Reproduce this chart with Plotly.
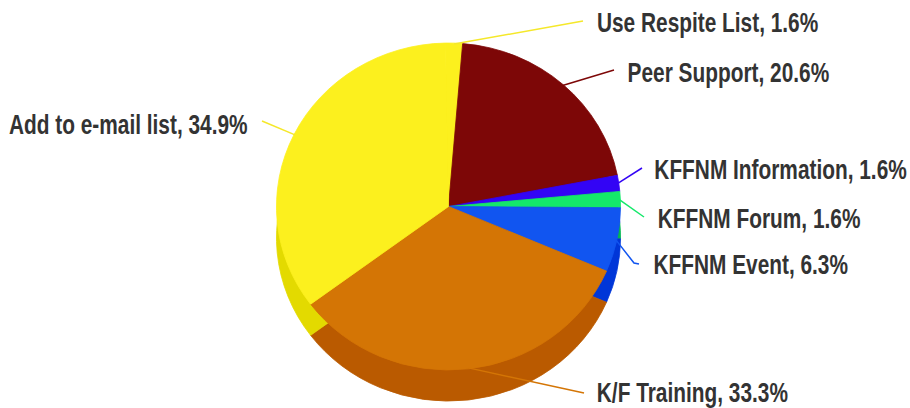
import math
import plotly.graph_objects as go

# ---- data ----
labels = ["Use Respite List", "Peer Support", "KFFNM Information", "KFFNM Forum",
          "KFFNM Event", "K/F Training", "Add to e-mail list"]
counts = [1, 13, 1, 1, 4, 21, 22]
pct_text = ["1.6%", "20.6%", "1.6%", "1.6%", "6.3%", "33.3%", "34.9%"]
top_colors = ["#FCF01E", "#7D0707", "#3304F5", "#14E86A", "#1155F0", "#D47505", "#FCF01E"]
side_colors = ["#E3DA00", "#5E0000", "#2400C0", "#00B850", "#0036D8", "#BA5A00", "#E3DA00"]

W, H = 910, 408
CX, CY, R = 448.5, 206.5, 168.0
DEPTH = 32.0
ROT = -1.0
SX = 0.745           # horizontal condensing of label text
PX, PY = 1.024, 0.973  # slight elliptical stretch of the pie

# label placement (pixel centre of each text and leader-line tail)
label_pos = [(707, 22), (728, 72), (780, 169), (759, 218), (750, 264), (692, 392), (128, 124)]
tail_pos = [(583, 21), (614, 70), (642, 168), (644, 217), (639, 264), (584, 393), (262, 121)]


def dom(cx, cy, r):
    return dict(x=[(cx - r) / W, (cx + r) / W], y=[(H - cy - r) / H, (H - cy + r) / H])


fig = go.Figure()
# side wall (offset, darker)
fig.add_trace(go.Pie(labels=labels, values=counts, sort=False, direction="clockwise",
                     rotation=ROT, domain=dom(CX, CY + DEPTH, R),
                     marker=dict(colors=side_colors, line=dict(width=0.8, color=side_colors)),
                     textinfo="none", hoverinfo="skip", showlegend=False))
# top face
fig.add_trace(go.Pie(labels=labels, values=counts, sort=False, direction="clockwise",
                     rotation=ROT, domain=dom(CX, CY, R),
                     marker=dict(colors=top_colors, line=dict(width=0.8, color=top_colors)),
                     textinfo="none", showlegend=False))

total = sum(counts)
cum = 0.0
shapes = []
annotations = []
for i, (lab, v, p) in enumerate(zip(labels, counts, pct_text)):
    mid = ROT + (cum + v / 2) / total * 360.0
    cum += v
    a = math.radians(mid)
    ex = CX + (R - 1) * PX * math.sin(a)
    ey = CY - (R - 1) * PY * math.cos(a)
    tx, ty = tail_pos[i]
    if i == 4:
        path = f"M {ex},{ey} L {tx-5},{ty-1} L {tx},{ty}"
    else:
        path = f"M {ex},{ey} L {tx},{ty}"
    shapes.append(dict(type="path", path=path, xref="x", yref="y",
                       line=dict(color=top_colors[i] if i not in (0, 6) else "#F5E82A", width=1.5)))
    lx, ly = label_pos[i]
    annotations.append(dict(x=lx, y=ly, xref="x", yref="y", text=f"{lab}, {p}",
                            showarrow=False, xanchor="center", yanchor="middle",
                            font=dict(family="Liberation Sans, Arial, sans-serif",
                                      size=28, color="#333333", weight="bold")))

fig.update_layout(
    width=W, height=H, margin=dict(l=0, r=0, t=0, b=0),
    paper_bgcolor="white", plot_bgcolor="white",
    xaxis=dict(range=[0, W], visible=False, fixedrange=True),
    yaxis=dict(range=[H, 0], visible=False, fixedrange=True),
    shapes=shapes, annotations=annotations, showlegend=False,
)

post = """
document.body.style.margin = '0';
var st = document.createElement('style');
st.textContent = '.annotation-text{transform-box:fill-box;transform-origin:center;transform:scaleX(%s);}'
  + '.pielayer{transform-origin:%spx %spx;transform:scale(%s,%s);}';
document.head.appendChild(st);
""" % (SX, CX, CY, PX, PY)
fig.write_html("out.html", post_script=post, config={"displayModeBar": False})
